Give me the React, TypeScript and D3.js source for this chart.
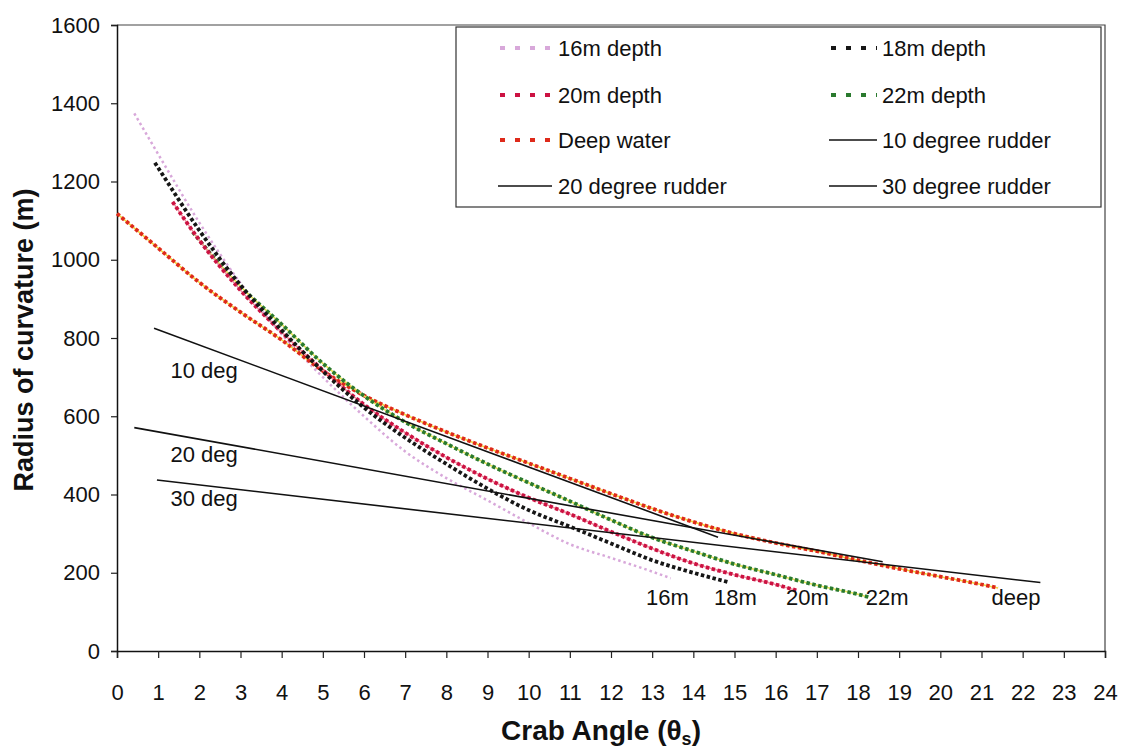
import React, { useEffect, useRef } from "react";
import * as d3 from "d3";

// crab angle (deg) vs radius of curvature (m)
const angle16 = [0.42, 1, 2, 3, 4, 5, 6, 7, 8, 9, 10, 11, 12, 13, 13.45];
const radius16 = [1374, 1270, 1095, 940, 810, 700, 600, 510, 442, 385, 327, 273, 238, 203, 186];

const angle18 = [0.92, 1, 2, 3, 4, 5, 6, 7, 8, 9, 10, 11, 12, 13, 14, 14.85];
const radius18 = [1248, 1235, 1075, 935, 820, 715, 622, 545, 478, 415, 360, 318, 275, 232, 200, 176];

const angle20 = [1.35, 2, 3, 4, 5, 6, 7, 8, 9, 10, 11, 12, 13, 14, 15, 16, 16.5];
const radius20 = [1148, 1050, 922, 815, 718, 630, 558, 495, 440, 392, 350, 305, 262, 224, 195, 170, 155];

const angle22 = [1.84, 2, 3, 4, 5, 6, 7, 8, 9, 10, 11, 12, 13, 14, 15, 16, 17, 18, 18.25];
const radius22 = [1071, 1050, 932, 835, 735, 652, 585, 530, 478, 430, 383, 335, 290, 255, 222, 195, 168, 145, 138];

const angleDeep = [0, 1, 2, 3, 4, 5, 6, 7, 8, 9, 10, 11, 12, 13, 14, 15, 16, 17, 18, 19, 20, 21, 21.4];
const radiusDeep = [1118, 1030, 942, 866, 795, 716, 653, 604, 560, 519, 480, 441, 402, 364, 330, 300, 276, 255, 232, 210, 190, 170, 161];

const angleRudder10 = [0.9, 14.6];
const radiusRudder10 = [825, 291];
const angleRudder20 = [0.42, 18.6];
const radiusRudder20 = [571, 228];
const angleRudder30 = [0.97, 22.43];
const radiusRudder30 = [437, 175];

const xTicks = [0, 1, 2, 3, 4, 5, 6, 7, 8, 9, 10, 11, 12, 13, 14, 15, 16, 17, 18, 19, 20, 21, 22, 23, 24];
const yTicks = [0, 200, 400, 600, 800, 1000, 1200, 1400, 1600];

const rudderLabels = ["10 deg", "20 deg", "30 deg"];
const rudderLabelAngle = [1.3, 1.3, 1.3];
const rudderLabelRadius = [697, 482, 370];

const endLabels = ["16m", "18m", "20m", "22m", "deep"];
const endLabelAngle = [13.37, 15.02, 16.77, 18.71, 21.84];
const endLabelRadius = [117, 117, 117, 117, 117];

const FONT = "'Liberation Sans', Arial, sans-serif";
const W = 1123;
const H = 755;

function zip(xs: number[], ys: number[]) {
  return xs.map((x, i) => [x, ys[i]] as [number, number]);
}

export default function App() {
  const ref = useRef<SVGSVGElement>(null);

  useEffect(() => {
    const svg = d3.select(ref.current);
    svg.selectAll("*").remove();

    const x = d3.scaleLinear().domain([0, 24]).range([117, 1105]);
    const y = d3.scaleLinear().domain([0, 1600]).range([651, 25]);

    const line = d3
      .line<[number, number]>()
      .x(d => x(d[0]))
      .y(d => y(d[1]))
      .curve(d3.curveMonotoneX);

    svg.append("rect").attr("width", W).attr("height", H).attr("fill", "white");

    // frame
    svg
      .append("path")
      .attr("d", `M${x(0)},${y(1600)}H${x(24)}V${y(0)}`)
      .attr("fill", "none")
      .attr("stroke", "#444")
      .attr("stroke-width", 1.2);

    // axes
    const xAxis = svg
      .append("g")
      .attr("transform", `translate(0,${y(0)})`)
      .call(d3.axisBottom(x).tickValues(xTicks).tickSize(7).tickPadding(26).tickFormat(d3.format("d")));
    const yAxis = svg
      .append("g")
      .attr("transform", `translate(${x(0)},0)`)
      .call(d3.axisLeft(y).tickValues(yTicks).tickSize(6).tickPadding(11).tickFormat(d3.format("d")));
    [xAxis, yAxis].forEach(g => {
      g.select(".domain").attr("stroke", "#111").attr("stroke-width", 1.5);
      g.selectAll(".tick line").attr("stroke", "#222").attr("stroke-width", 1.2);
      g.selectAll(".tick text")
        .attr("fill", "#111")
        .style("font-family", FONT)
        .style("font-size", "22px");
    });

    // dotted depth curves
    const series = [
      { a: angle16, r: radius16, color: "#d8a8da", under: null, w: 2.5, dash: "2.5,3" },
      { a: angleDeep, r: radiusDeep, color: "#de2a1a", under: "#f2d640", w: 3.8, dash: "3.5,2.5" },
      { a: angle22, r: radius22, color: "#2a7a2e", under: "#e4e25a", w: 3.8, dash: "3.5,2.5" },
      { a: angle20, r: radius20, color: "#cc1242", under: "#f090a0", w: 3.8, dash: "3.5,2.5" },
      { a: angle18, r: radius18, color: "#161616", under: null, w: 3.8, dash: "3.5,2.5" }
    ];
    series.forEach(s => {
      if (s.under) {
        svg
          .append("path")
          .attr("d", line(zip(s.a, s.r)))
          .attr("fill", "none")
          .attr("stroke", s.under)
          .attr("stroke-width", 1.6);
      }
      svg
        .append("path")
        .attr("d", line(zip(s.a, s.r)))
        .attr("fill", "none")
        .attr("stroke", s.color)
        .attr("stroke-width", s.w)
        .attr("stroke-dasharray", s.dash);
    });

    // rudder lines
    [
      zip(angleRudder10, radiusRudder10),
      zip(angleRudder20, radiusRudder20),
      zip(angleRudder30, radiusRudder30)
    ].forEach(pts => {
      svg
        .append("path")
        .attr("d", line(pts))
        .attr("fill", "none")
        .attr("stroke", "#111")
        .attr("stroke-width", 1.6);
    });

    // annotations
    rudderLabels.forEach((t, i) => {
      svg
        .append("text")
        .attr("x", x(rudderLabelAngle[i]))
        .attr("y", y(rudderLabelRadius[i]))
        .style("font-family", FONT)
        .style("font-size", "22px")
        .attr("fill", "#111")
        .text(t);
    });
    endLabels.forEach((t, i) => {
      svg
        .append("text")
        .attr("x", x(endLabelAngle[i]))
        .attr("y", y(endLabelRadius[i]))
        .attr("text-anchor", "middle")
        .style("font-family", FONT)
        .style("font-size", "22px")
        .attr("fill", "#111")
        .text(t);
    });

    // legend
    const lg = svg.append("g");
    lg.append("rect")
      .attr("x", 456)
      .attr("y", 27)
      .attr("width", 645)
      .attr("height", 180)
      .attr("fill", "white")
      .attr("stroke", "#333")
      .attr("stroke-width", 1.2);

    const legendItems = [
      { label: "16m depth", color: "#d8a8da", dash: "5,10", w: 4, col: 0, row: 0 },
      { label: "18m depth", color: "#161616", dash: "5,10", w: 4, col: 1, row: 0 },
      { label: "20m depth", color: "#cc1242", dash: "5,10", w: 4, col: 0, row: 1 },
      { label: "22m depth", color: "#2a7a2e", dash: "5,10", w: 4, col: 1, row: 1 },
      { label: "Deep water", color: "#de2a1a", dash: "5,10", w: 4, col: 0, row: 2 },
      { label: "10 degree rudder", color: "#111", dash: null, w: 1.5, col: 1, row: 2 },
      { label: "20 degree rudder", color: "#111", dash: null, w: 1.5, col: 0, row: 3 },
      { label: "30 degree rudder", color: "#111", dash: null, w: 1.5, col: 1, row: 3 }
    ];
    const rowY = [48, 95, 140, 186];
    const sampleX0 = [500, 831];
    const sampleX1 = [552, 877];
    const textX = [558, 882];
    legendItems.forEach(it => {
      const ly = rowY[it.row];
      lg.append("line")
        .attr("x1", it.dash ? sampleX0[it.col] : sampleX0[it.col] - 2)
        .attr("x2", sampleX1[it.col])
        .attr("y1", ly)
        .attr("y2", ly)
        .attr("stroke", it.color)
        .attr("stroke-width", it.w)
        .attr("stroke-dasharray", it.dash);
      lg.append("text")
        .attr("x", textX[it.col])
        .attr("y", ly + 8)
        .style("font-family", FONT)
        .style("font-size", "22px")
        .attr("fill", "#111")
        .text(it.label);
    });

    // axis titles
    svg
      .append("text")
      .attr("transform", `translate(33,${(y(0) + y(1600)) / 2 + 2}) rotate(-90)`)
      .attr("text-anchor", "middle")
      .style("font-family", FONT)
      .style("font-size", "27px")
      .style("font-weight", "bold")
      .attr("fill", "#111")
      .text("Radius of curvature (m)");

    const xt = svg
      .append("text")
      .attr("x", 601)
      .attr("y", 740)
      .attr("text-anchor", "middle")
      .style("font-family", FONT)
      .style("font-size", "28px")
      .style("font-weight", "bold")
      .attr("fill", "#111");
    xt.append("tspan").text("Crab Angle (θ");
    xt.append("tspan").attr("dy", 5).style("font-size", "18px").text("s");
    xt.append("tspan").attr("dy", -5).text(")");
  }, []);

  return (
    <svg
      ref={ref}
      width={W}
      height={H}
      style={{ position: "absolute", left: 0, top: 0, display: "block" }}
    />
  );
}
